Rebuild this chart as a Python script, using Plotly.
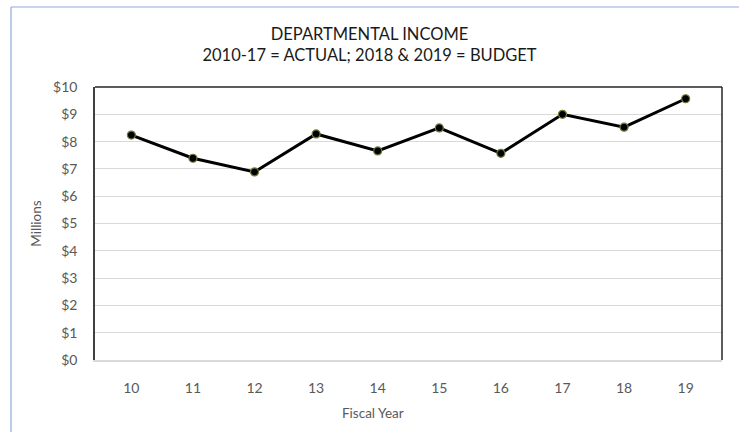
import plotly.graph_objects as go

# Fiscal years (two-digit) and departmental income in millions of dollars
fiscal_years = ["10", "11", "12", "13", "14", "15", "16", "17", "18", "19"]
income_millions = [8.24, 7.39, 6.89, 8.28, 7.66, 8.50, 7.57, 9.00, 8.53, 9.57]
y_tick_values = [0, 1, 2, 3, 4, 5, 6, 7, 8, 9, 10]
y_tick_labels = ["$" + str(v) for v in y_tick_values]

FONT = "Lato, Open Sans, sans-serif"
GREY = "#595959"

fig = go.Figure()
fig.add_trace(go.Scatter(
    x=fiscal_years,
    y=income_millions,
    mode="lines+markers",
    line=dict(color="#000000", width=3),
    marker=dict(color="#000000", size=8, line=dict(color="#6b7d35", width=1.2)),
    showlegend=False,
))

fig.update_layout(
    width=739,
    height=432,
    paper_bgcolor="#ffffff",
    plot_bgcolor="#ffffff",
    margin=dict(l=95, r=17, t=87, b=72),
    font=dict(family=FONT, color=GREY, size=14),
    title=dict(
        text="DEPARTMENTAL INCOME<br>2010-17 = ACTUAL; 2018 & 2019 = BUDGET",
        x=0.5,
        xanchor="center",
        y=1 - 40 / 432,
        yanchor="top",
        font=dict(family=FONT, size=16.5, color="#1a1a1a"),
    ),
    xaxis=dict(
        type="category",
        showgrid=False,
        showline=True,
        linecolor="#d9d9d9",
        linewidth=1.5,
        ticks="",
        ticklabelstandoff=14,
        tickfont=dict(size=14, color=GREY),
    ),
    yaxis=dict(
        range=[0, 10],
        tickvals=y_tick_values,
        ticktext=y_tick_labels,
        showgrid=True,
        gridcolor="#d9d9d9",
        gridwidth=1,
        zeroline=False,
        showline=True,
        linecolor="#404040",
        linewidth=1.5,
        ticks="",
        ticklabelstandoff=13,
        tickfont=dict(size=14, color=GREY),
        title=dict(text="Millions", font=dict(size=13.5, color=GREY), standoff=8),
    ),
)

# Horizontal-axis caption
fig.add_annotation(
    text="Fiscal Year", xref="paper", yref="paper",
    x=(373 - 95) / 627, y=(360 - 413) / 273,
    xanchor="center", yanchor="middle", showarrow=False,
    font=dict(family=FONT, size=13.5, color=GREY),
)

# Dark frame on the top and right sides of the plot area
fig.add_shape(type="line", xref="paper", yref="paper", x0=0, x1=1, y0=1, y1=1,
              line=dict(color="#262626", width=1.5))
fig.add_shape(type="line", xref="paper", yref="paper", x0=1, x1=1, y0=0, y1=1,
              line=dict(color="#262626", width=1.5))

# Thin blue chart border along the top and left edges
fig.add_shape(type="line", xref="paper", yref="paper",
              x0=-84 / 627, x1=1.1, y0=(432 - 72 - 7) / 273, y1=(432 - 72 - 7) / 273,
              line=dict(color="#8eaadb", width=1.2))
fig.add_shape(type="line", xref="paper", yref="paper",
              x0=-84 / 627, x1=-84 / 627, y0=-0.4, y1=(432 - 72 - 7) / 273,
              line=dict(color="#8eaadb", width=1.2))

fig.write_html("out.html")
